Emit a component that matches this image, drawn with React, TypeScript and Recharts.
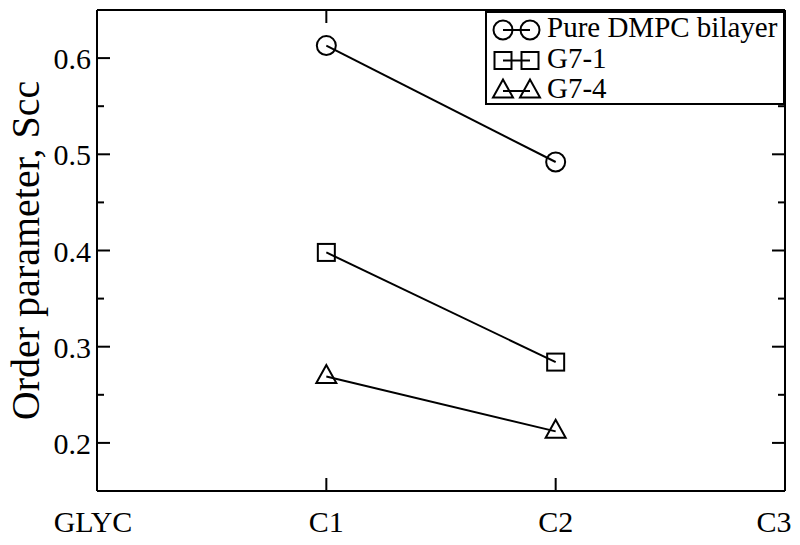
import React from "react";
import { Legend, Line, LineChart, XAxis, YAxis } from "recharts";

const categories = ["GLYC", "C1", "C2", "C3"];
const pureDmpc = [null, 0.613, 0.492, null];
const g71 = [null, 0.398, 0.284, null];
const g74 = [null, 0.269, 0.212, null];

const yMajorTicks = [0.2, 0.3, 0.4, 0.5, 0.6];
const yMinorTicks = [0.25, 0.35, 0.45, 0.55];
const yDomain = [0.15, 0.65];

const seriesNames = ["Pure DMPC bilayer", "G7-1", "G7-4"];
const seriesKeys = ["pure", "g71", "g74"];
const seriesShapes = ["circle", "square", "triangle"];

const data = categories.map((name, i) => ({
  name,
  pure: pureDmpc[i],
  g71: g71[i],
  g74: g74[i],
}));

const allYTicks = [...yMajorTicks, ...yMinorTicks].sort((a, b) => a - b);

const FONT = "'Liberation Serif', 'DejaVu Serif', serif";
const INK = "#000";

// frame of the plot area (layout, not data)
const W = 800;
const H = 545;
const LEFT = 97;
const RIGHT = 785;
const TOP = 10;
const BOTTOM = 491;
const MAJOR = 13;
const MINOR = 7;

function Marker({ shape, cx, cy }: { shape: string; cx: number; cy: number }) {
  const common = { fill: "none", stroke: INK, strokeWidth: 2 };
  if (shape === "circle") return <circle cx={cx} cy={cy} r={9.5} {...common} />;
  if (shape === "square")
    return <rect x={cx - 8.5} y={cy - 8.5} width={17} height={17} {...common} />;
  return (
    <polygon
      points={`${cx},${cy - 11.5} ${cx - 10},${cy + 6.5} ${cx + 10},${cy + 6.5}`}
      {...common}
    />
  );
}

const dotFor = (shape: string) => (props: any) => {
  const { cx, cy, index, value } = props;
  if (cx == null || cy == null || value == null || Number.isNaN(cy)) {
    return <g key={`e-${shape}-${index}`} />;
  }
  return (
    <g key={`d-${shape}-${index}`}>
      <Marker shape={shape} cx={cx} cy={cy} />
    </g>
  );
};

function LegendBox() {
  return (
    <svg width={300} height={94} style={{ display: "block" }}>
      <rect x={1} y={1} width={298} height={92} fill="#fff" stroke={INK} strokeWidth={2} />
      {seriesNames.map((name, i) => {
        const base = 26 + i * 30.5;
        const cy = base - 7;
        return (
          <g key={name}>
            <line x1={18} y1={cy} x2={45} y2={cy} stroke={INK} strokeWidth={2} />
            <Marker shape={seriesShapes[i]} cx={18} cy={cy} />
            <Marker shape={seriesShapes[i]} cx={45} cy={cy} />
            <text x={62} y={base} fontFamily={FONT} fontSize={29} fill={INK}>
              {name}
            </text>
          </g>
        );
      })}
    </svg>
  );
}

function YTitle(props: any) {
  const vb = props.viewBox;
  const x = 39;
  const y = vb.y + vb.height / 2;
  return (
    <text
      x={x}
      y={y}
      transform={`rotate(-90, ${x}, ${y})`}
      textAnchor="middle"
      fontFamily={FONT}
      fontSize={40}
      fill={INK}
    >
      Order parameter, Scc
    </text>
  );
}

function YTick(props: any) {
  const { payload } = props;
  const y = payload.coordinate;
  const major = yMajorTicks.some((t) => Math.abs(t - payload.value) < 1e-6);
  const len = major ? MAJOR : MINOR;
  return (
    <g>
      <line x1={LEFT} y1={y} x2={LEFT + len} y2={y} stroke={INK} strokeWidth={2} />
      <line x1={RIGHT} y1={y} x2={RIGHT - len} y2={y} stroke={INK} strokeWidth={2} />
      {major && (
        <text
          x={LEFT - 6}
          y={y + 11}
          textAnchor="end"
          fontFamily={FONT}
          fontSize={30}
          fill={INK}
        >
          {Number(payload.value).toFixed(1)}
        </text>
      )}
    </g>
  );
}

function XTick(props: any) {
  const { payload, index } = props;
  const x = payload.coordinate;
  const shift = index === categories.length - 1 ? -11 : index === 0 ? -4 : 0;
  return (
    <g>
      <line x1={x} y1={BOTTOM} x2={x} y2={BOTTOM - MAJOR} stroke={INK} strokeWidth={2} />
      <line x1={x} y1={TOP} x2={x} y2={TOP + MAJOR} stroke={INK} strokeWidth={2} />
      <text
        x={x + shift}
        y={532}
        textAnchor="middle"
        fontFamily={FONT}
        fontSize={30}
        fill={INK}
      >
        {payload.value}
      </text>
    </g>
  );
}

export default function App() {
  const axisStroke = { stroke: INK, strokeWidth: 2 };
  return (
    <div style={{ position: "absolute", left: 0, top: 0, background: "#fff" }}>
      <LineChart
        width={W}
        height={H}
        data={data}
        margin={{ top: 0, right: W - RIGHT - 1, bottom: 0, left: 0 }}
      >
        <XAxis
          dataKey="name"
          height={H - BOTTOM}
          axisLine={axisStroke}
          tickLine={false}
          tick={<XTick />}
          interval={0}
        />
        <XAxis
          xAxisId="top"
          dataKey="name"
          orientation="top"
          height={TOP}
          axisLine={axisStroke}
          tickLine={false}
          tick={false}
        />
        <YAxis
          type="number"
          domain={yDomain}
          ticks={allYTicks}
          interval={0}
          width={LEFT}
          axisLine={axisStroke}
          tickLine={false}
          tick={<YTick />}
          label={{ content: <YTitle /> }}
        />
        <YAxis
          yAxisId="right"
          orientation="right"
          type="number"
          domain={yDomain}
          width={1}
          axisLine={axisStroke}
          tickLine={false}
          tick={false}
        />
        {seriesKeys.map((key, i) => (
          <Line
            key={key}
            dataKey={key}
            name={seriesNames[i]}
            stroke={INK}
            strokeWidth={2}
            dot={dotFor(seriesShapes[i])}
            activeDot={false}
            isAnimationActive={false}
            connectNulls={false}
          />
        ))}
        <Legend
          layout="vertical"
          align="center"
          verticalAlign="middle"
          content={<LegendBox />}
          wrapperStyle={{ left: 485, top: 11, width: 300, height: 94 }}
        />
      </LineChart>
    </div>
  );
}
